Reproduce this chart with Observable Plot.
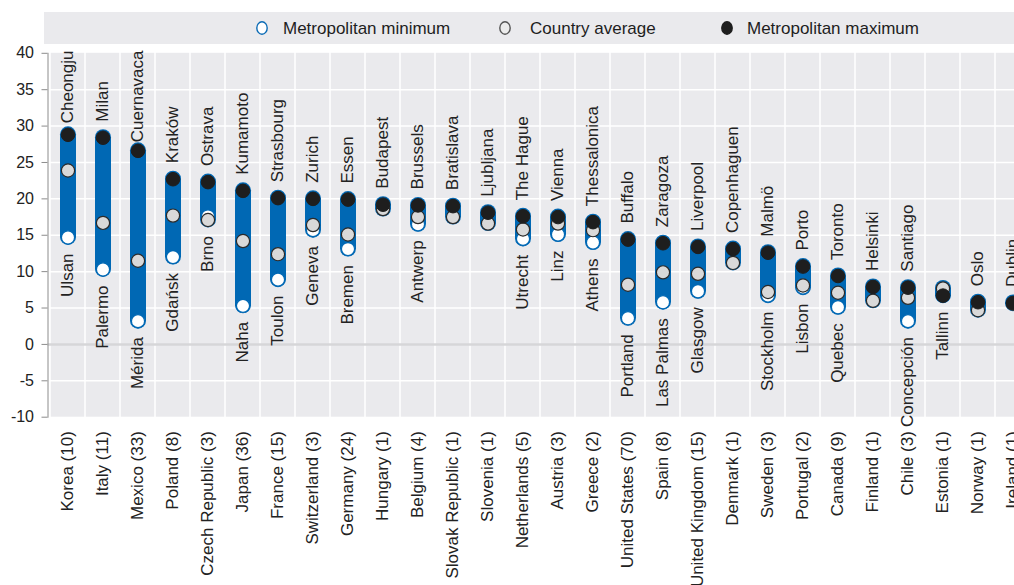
<!DOCTYPE html>
<html>
<head>
<meta charset="utf-8">
<script src="https://cdn.jsdelivr.net/npm/d3@7"></script>
<script src="https://cdn.jsdelivr.net/npm/@observablehq/plot@0.6"></script>
<style>
  html, body { margin: 0; padding: 0; background: #fff; overflow: hidden; }
  body { font-family: "Liberation Sans", Arial, sans-serif; width: 1014px; height: 585px; }
  #legend {
    position: relative; margin: 12px 0 0 44px; height: 32px; width: 990px;
    background: #eaeaed; color: #1e1e1e; font-size: 17px;
  }
  #legend .item { position: absolute; top: 0; height: 32px; display: flex; align-items: center; }
  #legend svg { display: block; }
  #chart svg { display: block; }
</style>
</head>
<body>
<div id="legend"></div>
<div id="chart"></div>
<script>
// Countries (number of metropolitan areas in brackets)
const countries = ["Korea (10)", "Italy (11)", "Mexico (33)", "Poland (8)", "Czech Republic (3)", "Japan (36)",
  "France (15)", "Switzerland (3)", "Germany (24)", "Hungary (1)", "Belgium (4)", "Slovak Republic (1)",
  "Slovenia (1)", "Netherlands (5)", "Austria (3)", "Greece (2)", "United States (70)", "Spain (8)",
  "United Kingdom (15)", "Denmark (1)", "Sweden (3)", "Portugal (2)", "Canada (9)", "Finland (1)",
  "Chile (3)", "Estonia (1)", "Norway (1)", "Ireland (1)"];

const maxValues = [28.8, 28.4, 26.6, 22.7, 22.3, 21.1, 20.1, 20.0, 19.9, 19.2, 19.1, 19.0, 18.1, 17.6,
  17.5, 16.8, 14.4, 13.9, 13.4, 13.1, 12.6, 10.7, 9.4, 7.9, 7.8, 6.7, 5.8, 5.7];
const avgValues = [23.9, 16.7, 11.5, 17.7, 17.1, 14.2, 12.4, 16.4, 15.1, 18.6, 17.5, 17.5, 16.6, 15.8,
  16.6, 15.7, 8.2, 9.9, 9.7, 11.2, 7.2, 8.1, 7.1, 6.0, 6.4, 7.7, 4.7, 5.6];
const minValues = [14.7, 10.3, 3.2, 12.0, 17.6, 5.3, 8.9, 15.7, 13.1, 19.2, 16.5, 19.0, 18.1, 14.5,
  15.1, 14.0, 3.6, 5.8, 7.3, 13.1, 6.7, 7.8, 5.1, 7.9, 3.2, 6.7, 5.8, 5.7];

const maxCities = ["Cheongju", "Milan", "Cuernavaca", "Kraków", "Ostrava", "Kumamoto", "Strasbourg", "Zurich",
  "Essen", "Budapest", "Brussels", "Bratislava", "Ljubljana", "The Hague", "Vienna", "Thessalonica",
  "Buffalo", "Zaragoza", "Liverpool", "Copenhaguen", "Malmö", "Porto", "Toronto", "Helsinki", "Santiago",
  "", "Oslo", "Dublin"];
const minCities = ["Ulsan", "Palermo", "Mérida", "Gdańsk", "Brno", "Naha", "Toulon", "Geneva", "Bremen",
  "", "Antwerp", "", "", "Utrecht", "Linz", "Athens", "Portland", "Las Palmas", "Glasgow", "", "Stockholm",
  "Lisbon", "Quebec", "", "Concepción", "Tallinn", "", ""];

const yTicks = [-10, -5, 0, 5, 10, 15, 20, 25, 30, 35, 40];

const legendItems = [
  {label: "Metropolitan minimum", fill: "#ffffff", stroke: "#0b6bb5", left: 211, gap: 14},
  {label: "Country average", fill: "#ececec", stroke: "#555555", left: 454, gap: 18},
  {label: "Metropolitan maximum", fill: "#1e1e1e", stroke: "#1e1e1e", left: 676, gap: 13}
];

const BLUE = "#0068b4";
const BG = "#eaeaed";
const FONT = '"Liberation Sans", Arial, sans-serif';

// legend strip
const legend = document.getElementById("legend");
for (const it of legendItems) {
  const div = document.createElement("div");
  div.className = "item";
  div.style.left = it.left + "px";
  div.innerHTML = `<svg width="14" height="16"><ellipse cx="7" cy="8" rx="5.2" ry="6.2" fill="${it.fill}" stroke="${it.stroke}" stroke-width="1.4"/></svg>` +
    `<span style="margin-left:${it.gap}px; position:relative; top:1px">${it.label}</span>`;
  legend.appendChild(div);
}

// layout of the plot
const width = 1032, height = 541;
const marginTop = 8.8, marginBottom = 168.3, marginLeft = 47.5, marginRight = 0;
const yDomain = [-10, 40];
const ppu = (height - marginTop - marginBottom) / (yDomain[1] - yDomain[0]); // pixels per unit

// text length measurement for label placement
const ctx = document.createElement("canvas").getContext("2d");
ctx.font = `17px ${FONT}`;
const textLen = s => ctx.measureText(s).width;

const data = countries.map((country, i) => {
  const hi = Math.max(maxValues[i], avgValues[i], minValues[i]);
  const lo = Math.min(maxValues[i], avgValues[i], minValues[i]);
  const topStart = Math.min(hi + 16 / ppu, yDomain[1] + 2.8 / ppu - textLen(maxCities[i]) / ppu);
  return {
    country, max: maxValues[i], avg: avgValues[i], min: minValues[i],
    hi, lo, maxCity: maxCities[i], minCity: minCities[i],
    topY: topStart, bottomY: lo - 16 / ppu
  };
});

const chart = Plot.plot({
  width, height, marginTop, marginBottom, marginLeft, marginRight,
  style: {maxWidth: "none", background: "#fff", fontFamily: FONT, overflow: "visible"},
  x: {type: "band", domain: countries, padding: 0, label: null},
  y: {domain: yDomain, label: null},
  marks: [
    // column panels
    Plot.barY(countries, {x: d => d, y1: -10, y2: 40, fill: BG, insetLeft: 0.75, insetRight: 0.75}),
    // horizontal grid
    Plot.ruleY(yTicks.filter(v => v !== 0 && v !== -10 && v !== 40), {stroke: "#ffffff", strokeWidth: 1.5}),
    Plot.ruleY([0], {stroke: "#d6d6d8", strokeWidth: 2.5}),
    Plot.frame({anchor: "left", stroke: "#8c8c8c", strokeWidth: 1}),
    Plot.axisY({ticks: yTicks, tickFormat: d => String(d), tickSize: 6, tickPadding: 8,
      fontSize: 16, stroke: "#8c8c8c", fill: "#222", label: null}),
    Plot.axisX({tickRotate: -90, tickSize: 0, tickPadding: 14, fontSize: 17, fill: "#222", label: null}),
    // range bars
    Plot.ruleX(data, {x: "country", y1: "lo", y2: "hi", stroke: BLUE, strokeWidth: 16, strokeLinecap: "round"}),
    Plot.dot(data, {x: "country", y: "min", r: 6.6, fill: "#ffffff", stroke: BLUE, strokeWidth: 1.3}),
    Plot.dot(data, {x: "country", y: "avg", r: 6.6, fill: "#d9d9d9", stroke: "#2a2a2a", strokeWidth: 1.2}),
    Plot.dot(data, {x: "country", y: "max", r: 6.8, fill: "#1e1e1e", stroke: "#1e1e1e", strokeWidth: 1}),
    // city labels
    Plot.text(data, {x: "country", y: "topY", text: "maxCity", rotate: -90, textAnchor: "start",
      fontSize: 17, fill: "#222"}),
    Plot.text(data, {x: "country", y: "bottomY", text: "minCity", rotate: -90, textAnchor: "end",
      fontSize: 17, fill: "#222"})
  ]
});
document.getElementById("chart").appendChild(chart);
</script>
</body>
</html>
